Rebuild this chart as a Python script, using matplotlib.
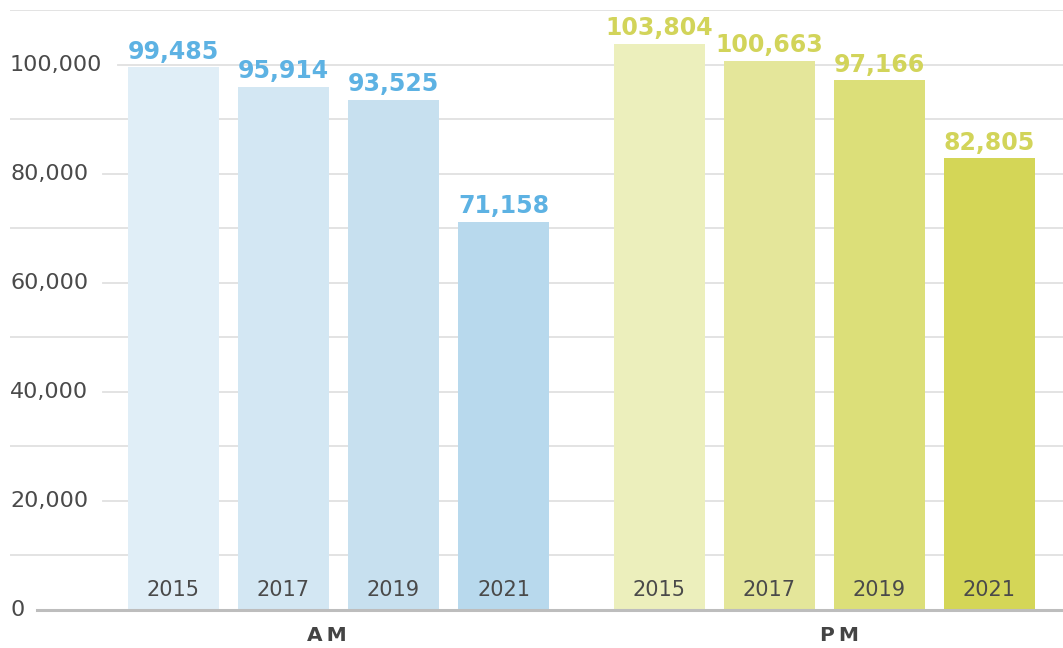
import matplotlib
matplotlib.use("Agg")
import matplotlib.pyplot as plt

groups = ["AM", "PM"]
years = ["2015", "2017", "2019", "2021"]
am_values = [99485, 95914, 93525, 71158]
pm_values = [103804, 100663, 97166, 82805]
am_colors = ["#e0eef7", "#d3e7f3", "#c7e0ef", "#b8d9ed"]
pm_colors = ["#ecefbc", "#e4e69a", "#dcdf79", "#d4d657"]
am_label_color = "#5db2e3"
pm_label_color = "#d2d45a"
y_ticks_major = list(range(0, 110001, 20000))
y_ticks_grid = list(range(10000, 110001, 10000))

W, H = 1063, 648
fig = plt.figure(figsize=(W / 100, H / 100), dpi=100)
ax = fig.add_axes([10 / W, 38 / H, 1053 / W, 600 / H])

unit = 110.0
gap = 0.418
bw = 91 / unit
ax.set_xlim((10 - 173.5) / unit, (1063 - 173.5) / unit)
ax.set_ylim(0, 110000)

series = [(am_values, am_colors, am_label_color, 0.0),
          (pm_values, pm_colors, pm_label_color, len(years) + gap)]

# gridlines
for yv in y_ticks_grid:
    ax.axhline(yv, color="#e0e0e0", lw=1.3, zorder=0)
# baseline
x0_frac = (37 - 10) / 1053
ax.axhline(0, xmin=x0_frac, xmax=1, color="#bdbdbd", lw=2.2, zorder=3, clip_on=False)

for vals, cols, lc, off in series:
    xs = [off + i for i in range(len(vals))]
    ax.bar(xs, vals, width=bw, color=cols, zorder=2)
    for x, v, yr in zip(xs, vals, years):
        ax.annotate(f"{v:,}", (x, v), xytext=(0, 2.5), textcoords="offset points",
                    ha="center", va="bottom", fontsize=17, fontweight="bold",
                    color=lc, zorder=4)
        ax.annotate(yr, (x, 0), xytext=(0, 7.5), textcoords="offset points",
                    ha="center", va="bottom", fontsize=15, color="#4a4a4a", zorder=4)

# y labels
for yv in y_ticks_major:
    ax.text(0, yv, f"{yv:,}", transform=ax.get_yaxis_transform(),
            ha="left", va="center", fontsize=16, color="#4a4a4a", zorder=5)

# Break the gridlines after the labels with white segments
label_ends_px = {20000: 100, 40000: 100, 60000: 100, 80000: 100, 100000: 115}
for yv, endpx in label_ends_px.items():
    ax.axhline(yv, xmin=0, xmax=(endpx - 10) / 1053, color="white", lw=3, zorder=1)

# group labels
band_mid = (617 - 173.5) / unit
left_edge = (37 - 173.5) / unit
right_edge = (1063 - 173.5) / unit
for g, cx in zip(groups, [(left_edge + band_mid) / 2, (band_mid + right_edge) / 2]):
    ax.text(cx, -0.043, "\u2009".join(g), transform=ax.get_xaxis_transform(),
            ha="center", va="center", fontsize=14.5, fontweight="bold", color="#444444")

for s in ax.spines.values():
    s.set_visible(False)
ax.set_xticks([])
ax.set_yticks([])

fig.savefig("out.png", dpi=100)
